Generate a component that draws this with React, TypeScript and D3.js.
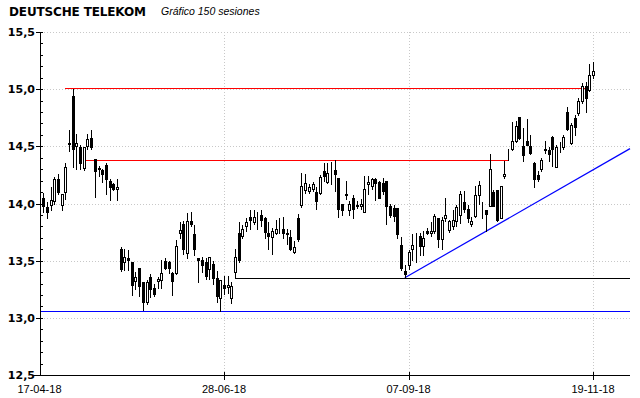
import React, { useEffect, useRef } from "react";
import * as d3 from "d3";

// 150 sessions
const opens = [
  14.05, 13.97, 13.99, 14.02, 14.21, 13.99, 14.10, 14.53, 14.94, 14.50,
  14.49, 14.31, 14.50, 14.57, 14.39, 14.30, 14.29, 14.34, 14.20, 14.17,
  14.13, 13.60, 13.49, 13.52, 13.49, 13.32, 13.44, 13.31, 13.14, 13.36,
  13.26, 13.32, 13.33, 13.50, 13.49, 13.39, 13.39, 13.74, 13.82, 13.57,
  13.85, 13.73, 13.52, 13.51, 13.49, 13.43, 13.47, 13.35, 13.17, 13.29,
  13.27, 13.17, 13.40, 13.74, 13.72, 13.80, 13.88, 13.84, 13.80, 13.90,
  13.87, 13.74, 13.71, 13.74, 13.78, 13.78, 13.74, 13.71, 13.58, 13.87,
  13.99, 14.12, 14.11, 14.13, 14.10, 14.09, 14.28, 14.19, 14.28, 14.29,
  14.22, 14.00, 14.07, 13.94, 14.05, 13.99, 13.98, 13.93, 14.17, 14.15,
  14.21, 14.19, 14.18, 14.20, 13.98, 13.96, 13.96, 13.64, 13.41, 13.46,
  13.60, 13.72, 13.72, 13.63, 13.76, 13.74, 13.76, 13.87, 13.69, 13.87,
  13.77, 13.80, 13.85, 13.90, 14.01, 13.95, 13.82, 13.89, 14.07, 13.94,
  13.94, 13.98, 14.10, 14.12, 13.87, 14.24, 14.40, 14.48, 14.55, 14.76,
  14.50, 14.55, 14.50, 14.35, 14.25, 14.30, 14.48, 14.47, 14.58, 14.32,
  14.49, 14.49, 14.80, 14.53, 14.75, 14.79, 14.90, 15.03, 14.99, 15.12,
];
const highs = [
  14.09, 14.01, 14.14, 14.23, 14.26, 14.08, 14.35, 14.64, 15.00, 14.61,
  14.51, 14.49, 14.61, 14.64, 14.39, 14.33, 14.30, 14.35, 14.21, 14.18,
  14.21, 13.62, 13.60, 13.59, 13.49, 13.40, 13.44, 13.31, 13.33, 13.38,
  13.30, 13.36, 13.51, 13.52, 13.50, 13.40, 13.68, 13.84, 13.85, 13.92,
  13.93, 13.81, 13.52, 13.53, 13.52, 13.53, 13.50, 13.41, 13.33, 13.37,
  13.37, 13.31, 13.60, 13.84, 13.81, 13.87, 13.94, 13.94, 13.93, 13.94,
  13.88, 13.84, 13.79, 13.86, 13.87, 13.88, 13.78, 13.77, 13.67, 13.91,
  14.27, 14.26, 14.17, 14.19, 14.14, 14.25, 14.35, 14.35, 14.36, 14.38,
  14.22, 14.00, 14.20, 14.02, 14.07, 14.02, 14.04, 14.24, 14.24, 14.22,
  14.22, 14.20, 14.22, 14.20, 14.00, 13.99, 13.96, 13.71, 13.46, 13.59,
  13.73, 13.74, 13.74, 13.76, 13.79, 13.84, 13.91, 13.87, 13.88, 14.05,
  13.86, 13.94, 13.99, 14.11, 14.11, 13.99, 13.88, 14.15, 14.20, 14.01,
  13.94, 14.43, 14.12, 14.12, 14.15, 14.37, 14.48, 14.71, 14.72, 14.76,
  14.66, 14.74, 14.60, 14.36, 14.28, 14.40, 14.55, 14.49, 14.59, 14.51,
  14.54, 14.60, 14.84, 14.70, 14.77, 14.92, 15.05, 15.06, 15.22, 15.24,
];
const lows = [
  13.93, 13.87, 13.94, 14.00, 14.08, 13.94, 14.04, 14.46, 14.32, 14.30,
  14.30, 14.29, 14.48, 14.48, 14.06, 14.24, 14.19, 14.08, 14.03, 14.12,
  14.03, 13.41, 13.42, 13.42, 13.20, 13.25, 13.19, 13.07, 13.12, 13.18,
  13.19, 13.26, 13.26, 13.43, 13.39, 13.20, 13.38, 13.70, 13.56, 13.52,
  13.80, 13.55, 13.31, 13.40, 13.34, 13.34, 13.30, 13.14, 13.06, 13.21,
  13.22, 13.13, 13.35, 13.49, 13.70, 13.76, 13.78, 13.82, 13.78, 13.80,
  13.70, 13.60, 13.56, 13.73, 13.74, 13.70, 13.65, 13.59, 13.57, 13.67,
  13.97, 14.09, 14.09, 14.11, 13.95, 14.08, 14.20, 14.18, 14.17, 14.11,
  13.88, 13.90, 14.04, 13.90, 13.87, 13.96, 13.95, 13.93, 14.08, 14.13,
  14.03, 14.05, 14.08, 13.82, 13.88, 13.85, 13.70, 13.42, 13.35, 13.43,
  13.51, 13.49, 13.55, 13.55, 13.73, 13.72, 13.74, 13.62, 13.60, 13.85,
  13.75, 13.78, 13.80, 13.83, 13.93, 13.84, 13.80, 13.88, 14.00, 13.87,
  13.76, 13.98, 13.98, 13.85, 13.87, 14.22, 14.38, 14.47, 14.54, 14.56,
  14.37, 14.52, 14.43, 14.14, 14.20, 14.28, 14.44, 14.37, 14.33, 14.32,
  14.45, 14.48, 14.64, 14.52, 14.60, 14.77, 14.88, 14.80, 14.98, 15.10,
];
const closes = [
  13.98, 13.93, 14.03, 14.21, 14.10, 14.08, 14.32, 14.52, 14.48, 14.53,
  14.35, 14.49, 14.56, 14.49, 14.28, 14.31, 14.26, 14.21, 14.14, 14.13,
  14.14, 13.43, 13.53, 13.51, 13.29, 13.36, 13.28, 13.14, 13.31, 13.25,
  13.21, 13.34, 13.39, 13.44, 13.44, 13.32, 13.63, 13.77, 13.60, 13.85,
  13.82, 13.60, 13.51, 13.46, 13.37, 13.53, 13.35, 13.19, 13.33, 13.26,
  13.29, 13.28, 13.53, 13.51, 13.78, 13.84, 13.86, 13.88, 13.80, 13.86,
  13.75, 13.72, 13.76, 13.78, 13.78, 13.74, 13.73, 13.60, 13.62, 13.69,
  14.15, 14.18, 14.14, 14.17, 14.02, 14.23, 14.24, 14.27, 14.28, 14.26,
  13.95, 13.94, 14.08, 14.00, 13.95, 13.98, 14.00, 14.13, 14.19, 14.21,
  14.18, 14.05, 14.11, 13.98, 13.90, 13.89, 13.73, 13.44, 13.38, 13.58,
  13.64, 13.72, 13.63, 13.70, 13.74, 13.76, 13.89, 13.69, 13.86, 13.90,
  13.85, 13.86, 13.97, 14.08, 13.95, 13.87, 13.85, 14.07, 14.16, 13.94,
  13.91, 14.30, 13.98, 13.86, 14.15, 14.26, 14.40, 14.55, 14.68, 14.57,
  14.42, 14.51, 14.44, 14.21, 14.21, 14.38, 14.47, 14.43, 14.48, 14.49,
  14.49, 14.58, 14.65, 14.69, 14.67, 14.90, 15.03, 14.92, 15.12, 15.16,
];

const yLabels = [12.5, 13.0, 13.5, 14.0, 14.5, 15.0, 15.5];
const dateLabels = ["17-04-18", "28-06-18", "07-09-18", "19-11-18"];
const dateSessions = [-1, 49, 99, 149];

// resistance / support levels: price, first session, last session (null = to the edge)
const redLevels = [15.01, 14.38];
const redFrom = [6, 11.3];
const redTo = [147, 126];
const blackLevel = 13.35;
const blackFrom = 52;
const blueLevel = 13.06;
// trend line: session 98 low, projected price at the right edge
const trendStart = [98, 13.35];
const trendEndPrice = 14.48;

const App = () => {
  const svgRef = useRef<SVGSVGElement>(null);

  useEffect(() => {
    document.body.style.margin = "0";
    const width = 640, height = 398;
    const left = 40, right = 630, top = 32, bottom = 375;

    const svg = d3.select(svgRef.current)
      .attr("width", width)
      .attr("height", height);
    svg.selectAll("*").remove();

    svg.append("rect").attr("width", width).attr("height", height).attr("fill", "#fff");

    const x = d3.scaleLinear().domain([-1, 149]).range([39.5, 593]);
    const y = d3.scaleLinear().domain([12.5, 15.5]).range([bottom, top]);
    const snap = (v: number) => Math.round(v) + 0.5;
    const edgeSession = x.invert(right);

    // grid
    const grid = svg.append("g")
      .attr("stroke", "#c8c8c8")
      .attr("stroke-dasharray", "1,2");
    grid.selectAll(".hg")
      .data(yLabels.slice(1))
      .enter()
      .append("line")
      .attr("x1", left + 1).attr("x2", right)
      .attr("y1", d => snap(y(d))).attr("y2", d => snap(y(d)));
    grid.selectAll(".vg")
      .data(dateSessions.slice(1))
      .enter()
      .append("line")
      .attr("x1", d => snap(x(d))).attr("x2", d => snap(x(d)))
      .attr("y1", top).attr("y2", bottom);

    // levels
    const lev = svg.append("g").attr("stroke-width", 1).attr("shape-rendering", "crispEdges");
    redLevels.forEach((v, i) => {
      lev.append("line")
        .attr("x1", x(redFrom[i])).attr("x2", x(redTo[i]))
        .attr("y1", snap(y(v))).attr("y2", snap(y(v)))
        .attr("stroke", "#ff0000");
    });
    lev.append("line")
      .attr("x1", x(blackFrom)).attr("x2", right)
      .attr("y1", snap(y(blackLevel))).attr("y2", snap(y(blackLevel)))
      .attr("stroke", "#000000");
    lev.append("line")
      .attr("x1", left + 1).attr("x2", right)
      .attr("y1", snap(y(blueLevel))).attr("y2", snap(y(blueLevel)))
      .attr("stroke", "#0000ff");
    svg.append("line")
      .attr("x1", x(trendStart[0])).attr("y1", y(trendStart[1]))
      .attr("x2", x(edgeSession)).attr("y2", y(trendEndPrice))
      .attr("stroke", "#0000ff")
      .attr("stroke-width", 1.2);

    // candles
    const idx = d3.range(opens.length);
    const cg = svg.append("g").attr("shape-rendering", "crispEdges");
    cg.selectAll(".wick")
      .data(idx)
      .enter()
      .append("line")
      .attr("x1", i => snap(x(i))).attr("x2", i => snap(x(i)))
      .attr("y1", i => Math.round(y(highs[i])))
      .attr("y2", i => Math.round(y(lows[i])) + 1)
      .attr("stroke", "#000");
    cg.selectAll(".body")
      .data(idx)
      .enter()
      .append("rect")
      .attr("x", i => Math.round(x(i)) - (closes[i] >= opens[i] ? 0.5 : 1))
      .attr("width", i => (closes[i] >= opens[i] ? 2 : 3))
      .attr("y", i => {
        const t = Math.round(y(Math.max(opens[i], closes[i])));
        return closes[i] >= opens[i] ? t + 0.5 : t;
      })
      .attr("height", i => {
        const t = Math.round(y(Math.max(opens[i], closes[i])));
        const b = Math.round(y(Math.min(opens[i], closes[i])));
        return closes[i] >= opens[i] ? Math.max(0, b - t) : Math.max(1, b - t + 1);
      })
      .attr("fill", i => (closes[i] >= opens[i] ? "#fff" : "#000"))
      .attr("stroke", i => (closes[i] >= opens[i] ? "#000" : "none"));

    // y axis
    const ya = svg.append("g").attr("shape-rendering", "crispEdges").attr("stroke", "#000");
    ya.append("line").attr("x1", left + 0.5).attr("x2", left + 0.5).attr("y1", top).attr("y2", bottom);
    const minor = d3.range(125, 156).map(v => v / 10);
    ya.selectAll(".mt")
      .data(minor)
      .enter()
      .append("line")
      .attr("x1", left).attr("x2", left + 3)
      .attr("y1", d => snap(y(d))).attr("y2", d => snap(y(d)));
    ya.selectAll(".Mt")
      .data(yLabels)
      .enter()
      .append("line")
      .attr("x1", 36).attr("x2", left + 3)
      .attr("y1", d => snap(y(d))).attr("y2", d => snap(y(d)));
    svg.append("g")
      .selectAll("text")
      .data(yLabels)
      .enter()
      .append("text")
      .attr("x", 35)
      .attr("y", d => y(d) + 4)
      .attr("text-anchor", "end")
      .attr("font-family", "DejaVu Sans")
      .attr("font-weight", "bold")
      .attr("font-size", 11)
      .attr("fill", "#000")
      .text(d => d3.format(".1f")(d).replace(".", ","));

    // x axis
    const xa = svg.append("g").attr("shape-rendering", "crispEdges").attr("stroke", "#000");
    xa.append("line").attr("x1", 33).attr("x2", right).attr("y1", bottom + 0.5).attr("y2", bottom + 0.5);
    xa.selectAll(".dt")
      .data(dateSessions.slice(1))
      .enter()
      .append("line")
      .attr("x1", d => snap(x(d))).attr("x2", d => snap(x(d)))
      .attr("y1", bottom - 3).attr("y2", bottom + 5);
    svg.append("g")
      .selectAll("text")
      .data(dateLabels)
      .enter()
      .append("text")
      .attr("x", (d, i) => x(dateSessions[i]))
      .attr("y", 393)
      .attr("text-anchor", "middle")
      .attr("font-family", "Liberation Sans")
      .attr("font-size", 11)
      .attr("fill", "#000")
      .text(d => d);

    // title
    svg.append("text")
      .attr("x", 9).attr("y", 16)
      .attr("font-family", "DejaVu Sans")
      .attr("font-weight", "bold")
      .attr("font-size", 12)
      .attr("textLength", 137)
      .text("DEUTSCHE TELEKOM");
    svg.append("text")
      .attr("x", 161).attr("y", 15)
      .attr("font-family", "Liberation Sans")
      .attr("font-style", "italic")
      .attr("font-size", 10.5)
      .text("Gráfico 150 sesiones");
  }, []);

  return <svg ref={svgRef} style={{ display: "block" }}></svg>;
};

export default App;
